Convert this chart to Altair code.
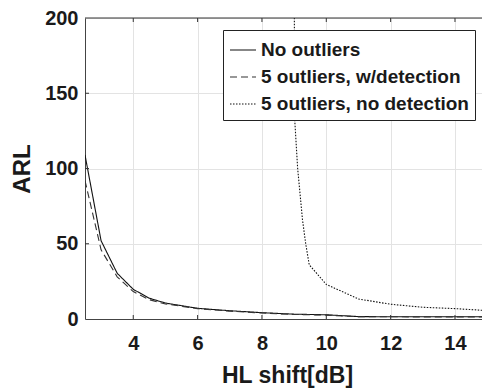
import altair as alt
import pandas as pd

# HL shift values (dB) and average run length for each scenario
shift_main = [2.5, 3, 3.5, 4, 4.5, 5, 6, 7, 8, 9, 10, 11, 12, 13, 14, 15]
arl_no_outliers = [109, 52, 30.4, 19.7, 13.8, 10.6, 7.1, 5.5, 4.2, 3.2, 2.8, 1.6, 1.5, 1.5, 1.5, 1.5]
arl_with_detection = [92, 46, 28, 18.2, 12.8, 10.0, 6.9, 5.2, 4.0, 3.0, 2.6, 1.5, 1.5, 1.4, 1.4, 1.4]

shift_nodet = [9.0, 9.02, 9.11, 9.26, 9.36, 9.47, 10, 11, 12, 13, 14, 15]
arl_no_detection = [240, 132, 100, 66, 50, 36, 23, 13.3, 9.8, 7.8, 6.9, 5.6]

series = ["No outliers", "5 outliers, w/detection", "5 outliers, no detection"]
x_ticks = [4, 6, 8, 10, 12, 14]
y_ticks = [0, 50, 100, 150, 200]

rows = []
for x, v in zip(shift_main, arl_no_outliers):
    rows.append({"shift": x, "arl": v, "series": series[0]})
for x, v in zip(shift_main, arl_with_detection):
    rows.append({"shift": x, "arl": v, "series": series[1]})
for x, v in zip(shift_nodet, arl_no_detection):
    rows.append({"shift": x, "arl": v, "series": series[2]})
df = pd.DataFrame(rows)

FONT = "Liberation Sans"
INK = "#1a1a1a"
x_dom = [2.5, 14.84]
y_dom = [0, 200]

xs = alt.Scale(domain=x_dom, nice=False, zero=False)
ys = alt.Scale(domain=y_dom, nice=False)

lines = alt.Chart(df).mark_line(clip=True, strokeWidth=1.1).encode(
    x=alt.X("shift:Q", scale=xs,
            axis=alt.Axis(values=x_ticks, title="HL shift[dB]", grid=True,
                          gridColor="#e3e3e3", ticks=False, domainColor="#444",
                          labelFont=FONT, labelFontSize=20, labelFontWeight="bold",
                          labelColor=INK, labelPadding=14,
                          titleFont=FONT, titleFontSize=23, titleFontWeight="bold",
                          titleColor=INK, titlePadding=11, titleX=202)),
    y=alt.Y("arl:Q", scale=ys,
            axis=alt.Axis(values=y_ticks, title="ARL", grid=True,
                          gridColor="#e3e3e3", ticks=False, domainColor="#444",
                          labelFont=FONT, labelFontSize=20, labelFontWeight="bold",
                          labelColor=INK, labelPadding=7,
                          titleFont=FONT, titleFontSize=24, titleFontWeight="bold",
                          titleColor=INK, titlePadding=10)),
    color=alt.Color("series:N", sort=series,
                    scale=alt.Scale(domain=series, range=["#111111", "#333333", "#111111"]),
                    legend=alt.Legend(title=None)),
    strokeDash=alt.StrokeDash("series:N", sort=series,
                              scale=alt.Scale(domain=series,
                                              range=[[1, 0], [7, 4], [1.5, 1.5]]),
                              legend=alt.Legend(title=None)),
)

# inward tick marks on bottom/top and left edges
xt = pd.DataFrame({"t": x_ticks})
yt = pd.DataFrame({"t": y_ticks[1:-1]})
bottom_ticks = alt.Chart(xt).mark_rule(color="#333", strokeWidth=1).encode(
    x=alt.X("t:Q", scale=xs), y=alt.value(301), y2=alt.value(297))
top_ticks = alt.Chart(xt).mark_rule(color="#333", strokeWidth=1).encode(
    x=alt.X("t:Q", scale=xs), y=alt.value(0), y2=alt.value(4))
left_ticks = alt.Chart(yt).mark_rule(color="#333", strokeWidth=1).encode(
    y=alt.Y("t:Q", scale=ys), x=alt.value(0), x2=alt.value(4))
top_border = alt.Chart(pd.DataFrame({"v": [200]})).mark_rule(color="#333", strokeWidth=1).encode(
    y=alt.Y("v:Q", scale=ys), x=alt.value(0), x2=alt.value(397))

chart = alt.layer(lines, bottom_ticks, top_ticks, left_ticks, top_border).properties(
    width=397, height=301,
    autosize=alt.AutoSizeParams(type="none"),
    padding={"left": 85, "top": 18, "right": 0, "bottom": 70},
    background="white",
).configure_view(stroke=None).configure_legend(
    orient="none", legendX=138, legendY=12,
    fillColor="white", strokeColor="#222", padding=6,
    symbolType="stroke", symbolSize=676, symbolStrokeWidth=1.1,
    labelFont=FONT, labelFontSize=19, labelFontWeight="bold", labelColor=INK,
    labelOffset=4, labelLimit=400, rowPadding=3, cornerRadius=0,
)

chart.save("out.html", embed_options={"renderer": "svg", "actions": False})
